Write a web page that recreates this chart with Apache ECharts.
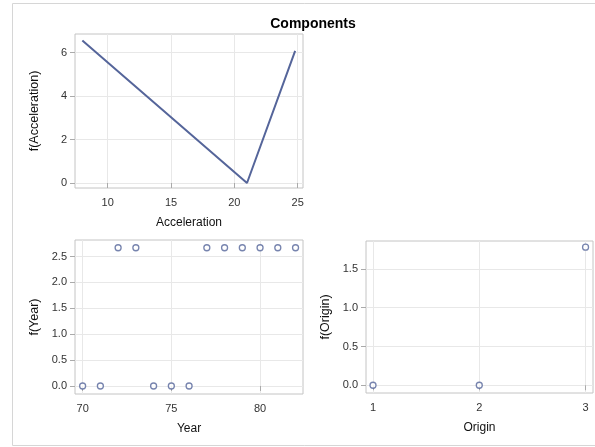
<!DOCTYPE html>
<html><head><meta charset="utf-8">
<script src="https://cdn.jsdelivr.net/npm/echarts@6/dist/echarts.min.js"></script>
<style>html,body{margin:0;padding:0;background:#fff}#c{width:595px;height:447px}</style>
</head><body><div id="c"></div>
<script>
// Data
const accelX = [8, 21, 24.8];
const accelF = [6.56, 0, 6.08];
const years = [70, 71, 72, 73, 74, 75, 76, 77, 78, 79, 80, 81, 82];
const yearF = [0, 0, 2.67, 2.67, 0, 0, 0, 2.67, 2.67, 2.67, 2.67, 2.67, 2.67];
const origins = [1, 2, 3];
const originF = [0, 0, 1.78];
const accelXTicks = [10, 15, 20, 25];
const accelYTicks = [0, 2, 4, 6];
const yearXTicks = [70, 75, 80];
const yearYTicks = [0, 0.5, 1, 1.5, 2, 2.5];
const originXTicks = [1, 2, 3];
const originYTicks = [0, 0.5, 1, 1.5];

const FONT = '"Liberation Sans", Arial, sans-serif';
const C = '#55659a';
const gridLine = {show: true, lineStyle: {color: '#e8e8e8', width: 1}};
function xAx(gi, min, max, interval, ticks, name, fmt) {
  return {type: 'value', gridIndex: gi, min, max, interval,
    name, nameLocation: 'middle', nameGap: 29,
    nameTextStyle: {fontFamily: FONT, fontSize: 12, color: '#111'},
    axisLine: {show: false},
    axisTick: {show: true, length: 5, lineStyle: {color: '#aaa'}, customValues: ticks},
    axisLabel: {fontFamily: FONT, fontSize: 11, color: '#333', margin: 9, customValues: ticks, formatter: fmt},
    splitLine: gridLine};
}
function yAx(gi, min, max, interval, ticks, name, fmt) {
  return {type: 'value', gridIndex: gi, min, max, interval,
    name, nameLocation: 'middle', nameGap: 34,
    nameTextStyle: {fontFamily: FONT, fontSize: 12.5, color: '#111'},
    axisLine: {show: false},
    axisTick: {show: true, length: 5, lineStyle: {color: '#aaa'}, customValues: ticks},
    axisLabel: {fontFamily: FONT, fontSize: 11, color: '#333', margin: 8, customValues: ticks, formatter: fmt},
    splitLine: gridLine};
}
const f1 = v => v.toFixed(1);
const f0 = v => String(v);
const gridStyle = {show: true, borderColor: '#c4c4c4', borderWidth: 1, backgroundColor: 'transparent', containLabel: false};
const chart = echarts.init(document.getElementById('c'), null, {renderer: 'canvas'});
const scatter = (xi, xs, ys) => ({type: 'scatter', xAxisIndex: xi, yAxisIndex: xi,
  data: xs.map((x, i) => [x, ys[i]]), symbol: 'circle', symbolSize: 6,
  itemStyle: {color: '#fff', borderColor: C, borderWidth: 1.3}, z: 5});
chart.setOption({
  animation: false,
  backgroundColor: '#fff',
  title: {text: 'Components', left: 308, top: 12, textAlign: 'center',
    textStyle: {fontFamily: FONT, fontSize: 14, fontWeight: 'bold', color: '#000'}},
  graphic: [{type: 'rect', shape: {x: 12.5, y: 3.5, width: 600, height: 442}, style: {fill: 'none', stroke: '#d6d6d6', lineWidth: 1}, silent: true}],
  grid: [
    Object.assign({left: 75, top: 34, width: 228, height: 154}, gridStyle),
    Object.assign({left: 75, top: 240, width: 228, height: 154}, gridStyle),
    Object.assign({left: 366, top: 241, width: 227, height: 152}, gridStyle)
  ],
  xAxis: [
    xAx(0, 7.42, 25.42, 5, accelXTicks, 'Acceleration', f0),
    xAx(1, 69.57, 82.42, 5, yearXTicks, 'Year', f0),
    xAx(2, 0.934, 3.07, 1, originXTicks, 'Origin', f0)
  ],
  yAxis: [
    yAx(0, -0.23, 6.86, 2, accelYTicks, 'f(Acceleration)', f0),
    yAx(1, -0.155, 2.82, 0.5, yearYTicks, 'f(Year)', f1),
    yAx(2, -0.1, 1.86, 0.5, originYTicks, 'f(Origin)', f1)
  ],
  series: [
    {type: 'line', xAxisIndex: 0, yAxisIndex: 0, data: accelX.map((x, i) => [x, accelF[i]]),
      showSymbol: false, lineStyle: {color: C, width: 2}, z: 5},
    scatter(1, years, yearF),
    scatter(2, origins, originF)
  ]
});
</script></body></html>
